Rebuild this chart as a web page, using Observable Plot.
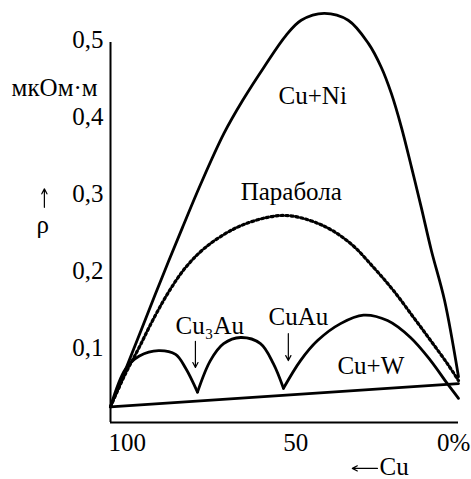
<!DOCTYPE html>
<html>
<head>
<meta charset="utf-8">
<script src="https://cdn.jsdelivr.net/npm/d3@7"></script>
<script src="https://cdn.jsdelivr.net/npm/@observablehq/plot@0.6"></script>
<style>
html,body{margin:0;padding:0;background:#fff;overflow:hidden;}
</style>
</head>
<body>
<div id="chart"></div>
<script>
// Cu content, % (x) and resistivity, мкОм·м (y)
const cuNiX = [100, 95.7, 90.8, 85.1, 79.3, 74.1, 67.4, 62.0, 55.9, 49.6, 45.2, 38.6, 31.7, 25.9, 22.2, 19.3, 16.4, 13.5, 10.7, 7.8, 4.0, 0];
const cuNiY = [0.023, 0.071, 0.127, 0.192, 0.256, 0.312, 0.378, 0.421, 0.464, 0.505, 0.525, 0.534, 0.525, 0.495, 0.464, 0.430, 0.386, 0.334, 0.282, 0.226, 0.161, 0.062];

const parabX = [100, 95.7, 92.0, 87.9, 83.3, 78.4, 72.7, 64.1, 54.9, 48.3, 38.8, 31.0, 24.4, 18.7, 12.9, 8.0, 3.2, 0];
const parabY = [0.023, 0.066, 0.098, 0.135, 0.172, 0.204, 0.230, 0.255, 0.269, 0.271, 0.258, 0.235, 0.204, 0.174, 0.139, 0.109, 0.079, 0.057];

// ordered Cu–Au alloy: three arcs with cusps at Cu3Au (75 %) and CuAu (50 %)
const cuAuSeg = [1, 1, 1, 1, 1, 1, 1, 2, 2, 2, 2, 2, 2, 2, 3, 3, 3, 3, 3, 3, 3, 3, 3, 3];
const cuAuX = [100, 95.7, 91.7, 86.2, 81.3, 78.4, 75.0, 75.0, 71.3, 67.5, 62.6, 56.9, 53.2, 50.3, 50.3, 45.4, 40.5, 33.9, 27.3, 20.4, 13.8, 8.0, 3.2, 0];
const cuAuY = [0.023, 0.072, 0.089, 0.096, 0.091, 0.073, 0.042, 0.042, 0.083, 0.105, 0.113, 0.105, 0.079, 0.047, 0.047, 0.083, 0.109, 0.131, 0.142, 0.135, 0.113, 0.083, 0.053, 0.034];

const cuWX = [100, 0];
const cuWY = [0.023, 0.053];

const yTicks = [0.1, 0.2, 0.3, 0.4, 0.5];
const yTickLabels = ["0,1", "0,2", "0,3", "0,4", "0,5"];

const xTicks = [100.6, 46.8, 1.4];
const xTickLabels = ["100", "50", "0%"];

const labels = [
  {text: "мкОм·м", x: 103.7, y: 0.427, anchor: "end"},
  {text: "ρ", x: 119.5, y: 0.249, anchor: "middle"},
  {text: "Cu+Ni", x: 51.7, y: 0.416, anchor: "start"},
  {text: "Парабола", x: 62.6, y: 0.291, anchor: "start"},
  {text: "Cu₃Au", x: 81.3, y: 0.118, anchor: "start"},
  {text: "CuAu", x: 54.6, y: 0.129, anchor: "start"},
  {text: "Cu+W", x: 34.8, y: 0.066, anchor: "start"},
  {text: "Cu", x: 22.7, y: -0.066, anchor: "start"}
];

// pointer arrows (↑ ρ, ↓ Cu3Au, ↓ CuAu, ← Cu)
const arrows = [
  {x1: 119.0, y1: 0.282, x2: 119.0, y2: 0.306},
  {x1: 75.6, y1: 0.108, x2: 75.6, y2: 0.074},
  {x1: 48.9, y1: 0.118, x2: 48.9, y2: 0.083},
  {x1: 23.3, y1: -0.057, x2: 30.5, y2: -0.057}
];

const toRows = (xs, ys, zs) => xs.map((x, i) => ({x, y: ys[i], z: zs ? zs[i] : 0}));
const cuNi = toRows(cuNiX, cuNiY);
const parab = toRows(parabX, parabY);
const cuAu = toRows(cuAuX, cuAuY, cuAuSeg);
const cuW = toRows(cuWX, cuWY);

const font = "Liberation Serif, Times New Roman, serif";
const fs = 25;

const textMarks = ["start", "middle", "end"].map(a =>
  Plot.text(labels.filter(d => d.anchor === a), {
    x: "x", y: "y", text: "text", textAnchor: a, lineAnchor: "bottom",
    fontSize: fs, fontFamily: font, fill: "black"
  })
);

const chart = Plot.plot({
  width: 471,
  height: 479,
  margin: 0,
  style: {background: "white"},
  x: {domain: [100, 0], range: [110, 458], axis: null},
  y: {domain: [0, 0.5], range: [424, 39], axis: null},
  marks: [
    Plot.ruleY([0], {x1: 100, x2: 0, dy: -2, stroke: "black", strokeWidth: 2}),
    Plot.ruleX([100], {y1: 0.0026, y2: 0.496, stroke: "black", strokeWidth: 2}),
    Plot.line(cuW, {x: "x", y: "y", stroke: "black", strokeWidth: 2.8}),
    Plot.line(parab, {x: "x", y: "y", stroke: "black", strokeWidth: 3.2, strokeDasharray: "2.2,2.8", curve: "catmull-rom"}),
    Plot.line(cuNi, {x: "x", y: "y", stroke: "black", strokeWidth: 2.8, curve: "catmull-rom"}),
    Plot.line(cuAu, {x: "x", y: "y", z: "z", stroke: "black", strokeWidth: 2.8, curve: "catmull-rom"}),
    Plot.arrow(arrows, {x1: "x1", y1: "y1", x2: "x2", y2: "y2", stroke: "black", strokeWidth: 1.2, headLength: 7, headAngle: 55}),
    Plot.text(yTicks, {x: 102, y: d => d, text: (d, i) => yTickLabels[i], textAnchor: "end", lineAnchor: "middle", fontSize: fs, fontFamily: font, fill: "black"}),
    Plot.text(xTicks.slice(0, 1), {x: d => d, y: -0.034, text: () => xTickLabels[0], textAnchor: "start", lineAnchor: "bottom", fontSize: fs, fontFamily: font, fill: "black"}),
    Plot.text(xTicks.slice(1), {x: d => d, y: -0.034, text: (d, i) => xTickLabels[i + 1], textAnchor: "middle", lineAnchor: "bottom", fontSize: fs, fontFamily: font, fill: "black"}),
    ...textMarks
  ]
});
document.getElementById("chart").appendChild(chart);
</script>
</body>
</html>
